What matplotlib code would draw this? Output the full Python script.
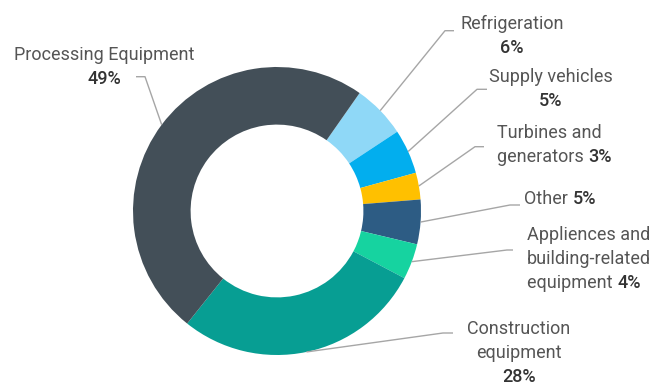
import numpy as np
import matplotlib.pyplot as plt

# slice data, clockwise from the top right
names = ['Refrigeration', 'Supply vehicles', 'Turbines and generators', 'Other',
         'Appliences and building-related equipment', 'Construction equipment',
         'Processing Equipment']
values = [6, 5, 3, 5, 4, 28, 49]
colors = ['#8fd8f7', '#02aeee', '#ffc000', '#2d5c84', '#16d3a0', '#079e93', '#434f58']

# how each label is broken into lines, {} is where the bold percentage goes
label_fmt = ['Refrigeration\n{}', 'Supply vehicles\n{}', 'Turbines and\ngenerators {}',
             'Other {}', 'Appliences and\nbuilding-related\nequipment {}',
             'Construction\nequipment\n{}', 'Processing Equipment\n{}']

# layout in pixels (y from the top)
W, H = 660, 386
cx, cy, R = 277, 211, 144
label_pos = [(512, 24, 'center'), (551, 77, 'center'), (497, 132.7, 'left'),
             (524, 199, 'left'), (527, 235, 'left'), (519, 329, 'center'),
             (104, 55, 'center')]
elbows = [((445, 30.7), (454, 30.7)), ((477, 89.3), (487, 89.3)),
          ((475, 146.7), (484, 146.7)), ((510, 205), (520, 205)),
          ((507, 250), (513, 250)), ((443, 333), (453, 333)),
          ((145, 76.7), (136, 76.7))]
line_gap = 24

plt.rcParams['font.family'] = ['Roboto', 'DejaVu Sans']
fs = 13
txt_col = '#555555'
pct_col = '#333333'


def py(y):
    return H - y


fig = plt.figure(figsize=(W / 100, H / 100), dpi=100)
ax = fig.add_axes([0, 0, 1, 1])

wedges, _ = ax.pie(values, colors=colors, startangle=55, counterclock=False,
                   radius=R, center=(cx, py(cy)),
                   wedgeprops=dict(width=R * 0.4, edgecolor='none', linewidth=0))

for w, v, fmt, (lx, ly, ha), (e1, e2) in zip(wedges, values, label_fmt, label_pos, elbows):
    mid = np.deg2rad((w.theta1 + w.theta2) / 2)
    sx = cx + R * np.cos(mid)
    sy = py(cy) + R * np.sin(mid)
    ax.plot([sx, e1[0], e2[0]], [sy, py(e1[1]), py(e2[1])], color='#a6a6a6', lw=1,
            solid_capstyle='butt', zorder=1)
    for i, line in enumerate(fmt.split('\n')):
        y = py(ly + i * line_gap)
        if '{}' not in line:
            ax.text(lx, y, line, ha=ha, va='center', fontsize=fs, color=txt_col)
            continue
        pre = line.replace('{}', '').strip()
        pct = f'{v}%'
        if pre == '':
            ax.text(lx, y, pct, ha=ha, va='center', fontsize=fs, color=pct_col,
                    fontweight='medium')
        else:
            t = ax.text(lx, y, pre + ' ', ha=ha, va='center', fontsize=fs, color=txt_col)
            ax.annotate(pct, xy=(1, 0.5), xycoords=t, ha='left', va='center',
                        fontsize=fs, color=pct_col, fontweight='medium')

ax.set_xlim(0, W)
ax.set_ylim(0, H)
ax.set_aspect('equal')
ax.axis('off')

fig.savefig('out.png', dpi=100)
